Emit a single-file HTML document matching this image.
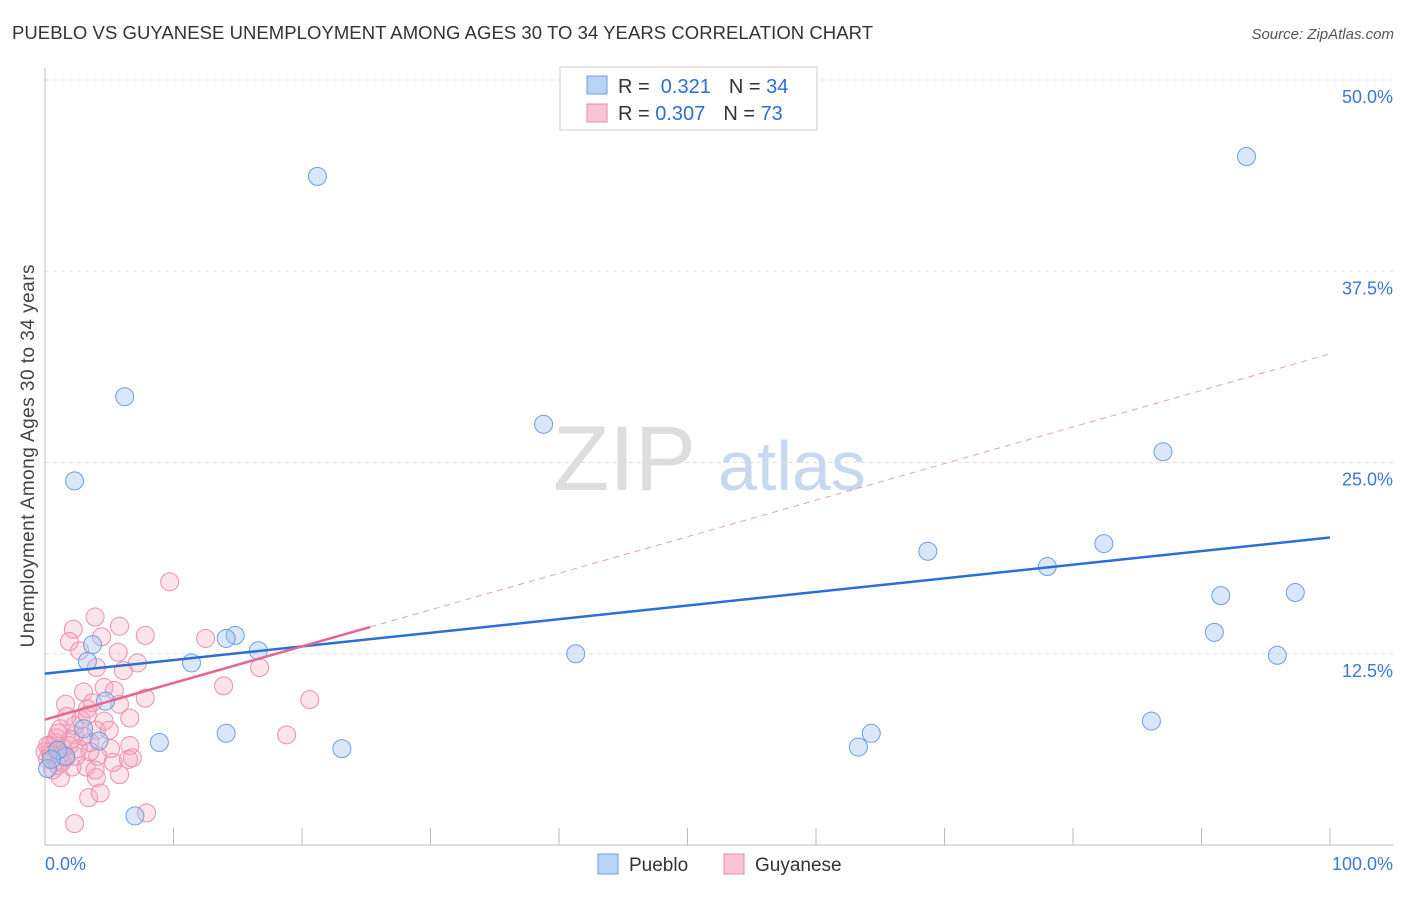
<!DOCTYPE html>
<html><head><meta charset="utf-8"><style>
body{margin:0;background:#fff;font-family:"Liberation Sans",sans-serif;}
svg text{font-family:"Liberation Sans",sans-serif;}
</style></head><body>
<svg id="c" width="1406" height="892" xmlns="http://www.w3.org/2000/svg">
<text x="12" y="39" font-size="18.5" fill="#333" textLength="861">PUEBLO VS GUYANESE UNEMPLOYMENT AMONG AGES 30 TO 34 YEARS CORRELATION CHART</text>
<text x="1394" y="39" font-size="15" fill="#555" text-anchor="end" font-style="italic">Source: ZipAtlas.com</text>
<text x="34" y="456" font-size="19" fill="#444" text-anchor="middle" textLength="383" transform="rotate(-90 34 456)">Unemployment Among Ages 30 to 34 years</text>
<text x="553" y="490" font-size="92" fill="#ddd" font-family="Liberation Serif">ZIP</text>
<text x="718" y="490" font-size="70" fill="#c8d8ee">atlas</text>
<g id="grid"></g><g id="pts"></g><g id="lines"></g>
<g>
<rect x="560" y="67" width="257" height="63" fill="#fff" stroke="#ccc"/>
<rect x="587" y="76" width="20" height="18" fill="#b9d3f5" stroke="#6a9fe0"/>
<rect x="587" y="104" width="20" height="18" fill="#f8c5d5" stroke="#e88aa8"/>
<text x="618" y="93" font-size="20" fill="#333">R = <tspan fill="#2a6fd6">&#160;0.321</tspan><tspan dx="18">N = </tspan><tspan fill="#2a6fd6">34</tspan></text>
<text x="618" y="120" font-size="20" fill="#333">R = <tspan fill="#2a6fd6">0.307</tspan><tspan dx="18">N = </tspan><tspan fill="#2a6fd6">73</tspan></text>
</g>
<g>
<rect x="598" y="854" width="20" height="20" fill="#b9d3f5" stroke="#6a9fe0"/>
<text x="629" y="871" font-size="19" fill="#333">Pueblo</text>
<rect x="724" y="854" width="20" height="20" fill="#f8c5d5" stroke="#e88aa8"/>
<text x="755" y="871" font-size="19" fill="#333">Guyanese</text>
</g>
<text x="45" y="870" font-size="18" fill="#3a78d8">0.0%</text>
<text x="1393" y="870" font-size="18" fill="#3a78d8" text-anchor="end">100.0%</text>
</svg>
<script>
const yTicks=[12.5,25,37.5,50];
const yTickLabels=["12.5%","25.0%","37.5%","50.0%"];
const blueX=[21.2,93.5,6.2,38.8,2.3,87.0,68.7,82.4,78.0,91.5,97.3,91.0,95.9,41.3,14.8,14.1,16.6,11.4,3.7,3.3,4.7,8.9,14.1,23.1,64.3,63.3,86.1,7.0,0.2,1.6,4.2,3.0,1.0,0.5];
const blueY=[43.7,45.0,29.3,27.5,23.8,25.7,19.2,19.7,18.2,16.3,16.5,13.9,12.4,12.5,13.7,13.5,12.7,11.9,13.1,12.0,9.4,6.7,7.3,6.3,7.3,6.4,8.1,1.9,5.0,5.8,6.8,7.6,6.2,5.6];
const pinkX=[9.7,3.9,2.2,5.8,7.8,1.9,4.4,2.7,5.7,4.0,6.1,12.5,16.7,13.9,20.6,18.8,4.6,3.0,5.4,1.6,3.3,2.8,4.6,6.6,1.7,7.8,4.0,2.3,5.1,6.6,1.0,0.8,1.4,0.4,0.2,0.6,1.2,2.1,3.2,4.1,2.4,5.8,4.0,5.3,6.5,6.8,3.4,4.3,7.9,2.3,1.3,0.9,0.4,1.9,3.5,5.0,0.9,1.2,2.3,1.6,2.6,0.0,0.2,0.5,1.0,3.0,3.3,3.7,5.8,7.2,3.5,3.9,2.0];
const pinkY=[17.2,14.9,14.1,14.3,13.7,13.3,13.6,12.7,12.6,11.6,11.4,13.5,11.6,10.4,9.5,7.2,10.3,10.0,10.1,9.2,8.9,8.2,8.1,8.3,8.4,9.6,7.5,7.2,6.3,6.5,7.3,6.7,6.3,6.1,5.6,4.9,4.4,5.1,5.1,5.8,5.8,4.6,4.4,5.4,5.6,5.7,3.1,3.4,2.1,1.4,5.4,6.2,6.5,6.5,6.7,7.5,7.0,7.6,7.8,5.7,6.3,6.1,6.5,5.9,5.2,7.1,8.5,9.3,9.2,11.9,6.1,4.9,6.9];
const blueTrend=[11.2,20.1];
const pinkTrend=[8.2,0.239,25.3];
const NS="http://www.w3.org/2000/svg";
const X=v=>45+v*12.85, Y=v=>845-v*15.3;
function mk(t,a,p){const e=document.createElementNS(NS,t);for(const k in a)e.setAttribute(k,a[k]);p.appendChild(e);return e;}
const g=document.getElementById('grid');
yTicks.forEach((t,i)=>{
 const l=mk('line',{x1:45,x2:1393,y1:Y(t),y2:Y(t),stroke:'#ddd','stroke-dasharray':'4,4'},g);
 
 
 const tx=mk('text',{x:1393,y:Y(t)+23,'font-size':18,fill:'#3a78d8','text-anchor':'end'},g);
 tx.textContent=yTickLabels[i];
 
 
});
const ax=mk('line',{x1:45,x2:1393,y1:845,y2:845,stroke:'#bbb'},g);


const ay=mk('line',{x1:45,x2:45,y1:68,y2:845,stroke:'#bbb'},g);


for(let i=0;i<=10;i++){const t=mk('line',{x1:X(i*10),x2:X(i*10),y1:828,y2:845,stroke:'#bbb'},g);
 
 }
const p=document.getElementById('pts');
pinkX.forEach((x,i)=>{const c=mk('circle',{cx:X(x),cy:Y(pinkY[i]),r:9,fill:'rgba(245,165,190,0.3)',stroke:'#ec8fae','stroke-width':1},p);
 
 });
blueX.forEach((x,i)=>{const c=mk('circle',{cx:X(x),cy:Y(blueY[i]),r:9,fill:'rgba(160,196,240,0.4)',stroke:'#6a9fe0','stroke-width':1},p);
 
 });
const L=document.getElementById('lines');
const b=mk('line',{x1:X(0),y1:Y(blueTrend[0]),x2:X(100),y2:Y(blueTrend[1]),stroke:'#2a6fd6','stroke-width':2.5},L);


const pe=pinkTrend[2];
const ps=mk('line',{x1:X(0),y1:Y(pinkTrend[0]),x2:X(pe),y2:Y(pinkTrend[0]+pinkTrend[1]*pe),stroke:'#e8658f','stroke-width':2.5},L);


const pd=mk('line',{x1:X(pe),y1:Y(pinkTrend[0]+pinkTrend[1]*pe),x2:X(100),y2:Y(pinkTrend[0]+pinkTrend[1]*100),stroke:'#e8a0b8','stroke-width':1,'stroke-dasharray':'6,5'},L);


</script>
</body></html>
